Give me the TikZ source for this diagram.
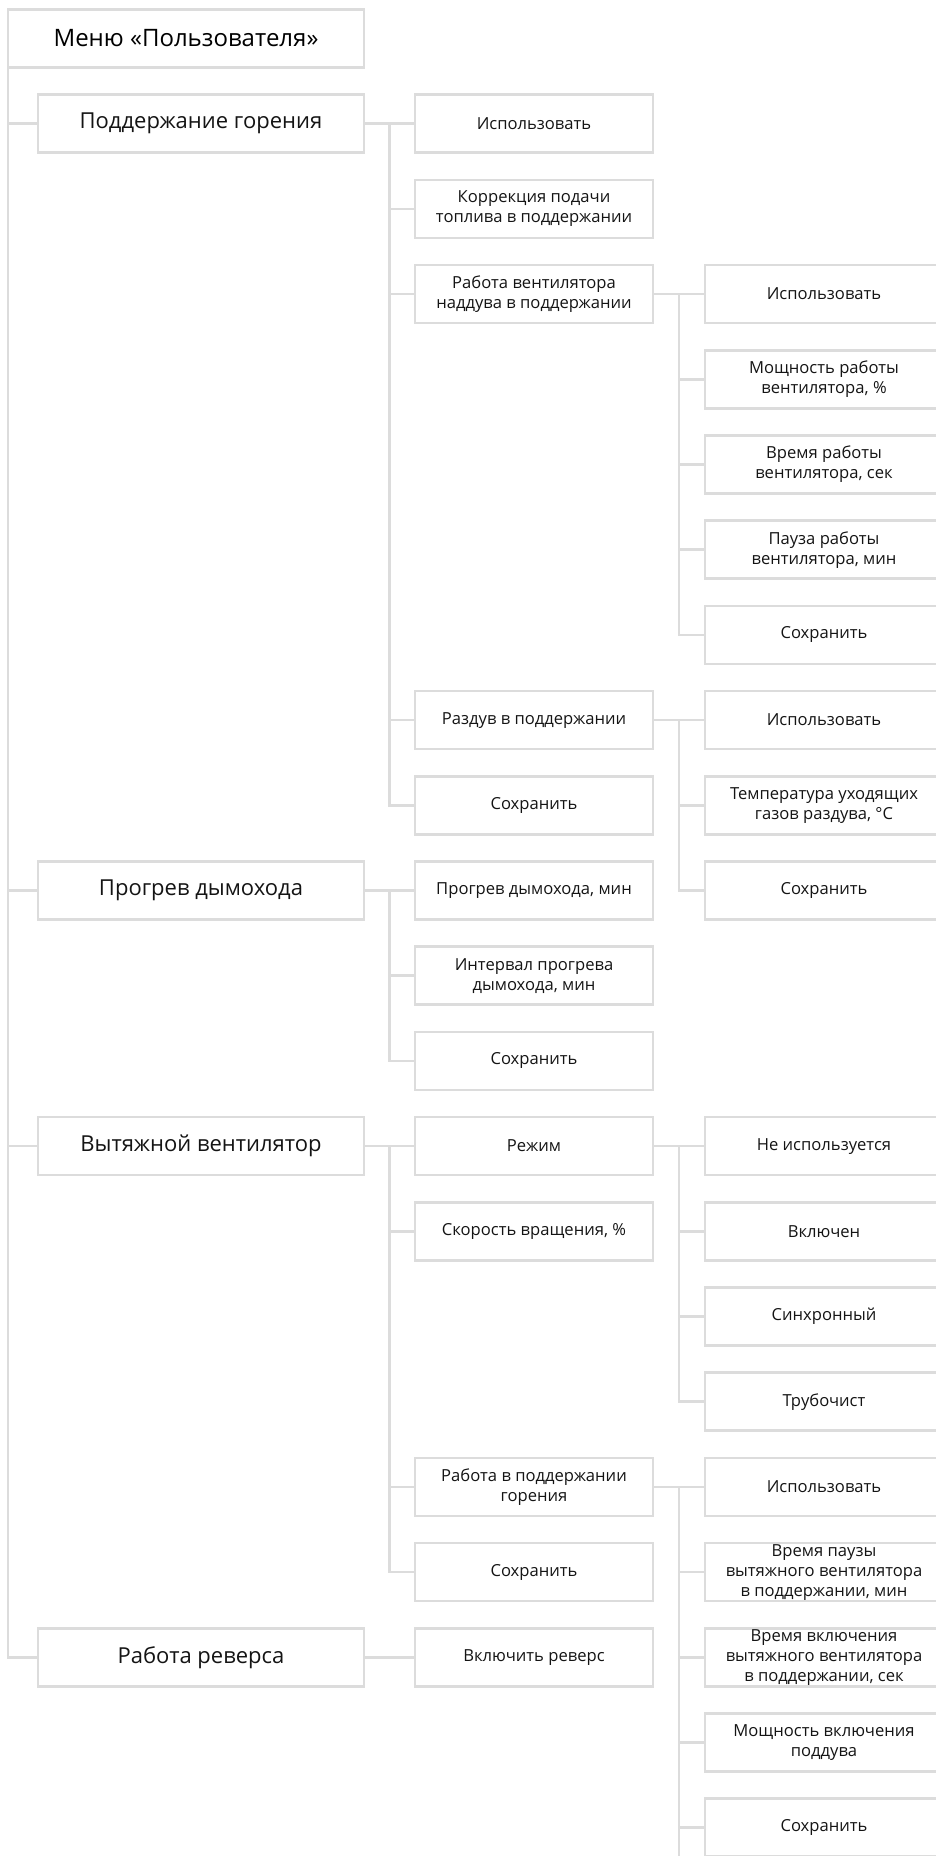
\documentclass[tikz,border=0pt]{standalone}
\usepackage{fontspec}
\setmainfont{Open Sans}
\usetikzlibrary{calc}
\definecolor{linegray}{HTML}{DCDCDC}
\definecolor{textgray}{HTML}{141414}
\tikzset{
  box/.style={draw=linegray, line width=2.5pt, rectangle, align=center, inner sep=0pt, outer sep=0pt, minimum height=58pt, text=textgray},
  rootbox/.style={box, minimum width=356pt, text=black, font=\fontsize{24}{28}\selectfont},
  mainbox/.style={box, minimum width=326pt, font=\fontsize{22}{26}\selectfont},
  subbox/.style={box, minimum width=238pt, font=\fontsize{16.6}{20}\selectfont},
  leafbox/.style={subbox},
  link/.style={draw=linegray, line width=2.5pt},
}
\begin{document}
\begin{tikzpicture}[x=1pt, y=-1pt]
\clip (0,0) rectangle (936,1856);
% root and main branches
\node[rootbox] (root) at (186,38.5) {Меню «Пользователя»};
\node[mainbox] (burn) at (201,123.7) {Поддержание горения};
\node[mainbox] (chim) at (201,890.5) {Прогрев дымохода};
\node[mainbox] (exh) at (201,1146.1) {Вытяжной вентилятор};
\node[mainbox] (rev) at (201,1657.3) {Работа реверса};
% second level
\node[subbox] (burn-use) at (534,123.7) {Использовать};
\node[subbox] (burn-fuel) at (534,208.9) {Коррекция подачи\\топлива в поддержании};
\node[subbox] (burn-fan) at (534,294.1) {Работа вентилятора\\наддува в поддержании};
\node[subbox] (burn-blow) at (534,720.1) {Раздув в поддержании};
\node[subbox] (burn-save) at (534,805.3) {Сохранить};
\node[subbox] (chim-time) at (534,890.5) {Прогрев дымохода, мин};
\node[subbox] (chim-int) at (534,975.7) {Интервал прогрева\\дымохода, мин};
\node[subbox] (chim-save) at (534,1060.9) {Сохранить};
\node[subbox] (exh-mode) at (534,1146.1) {Режим};
\node[subbox] (exh-speed) at (534,1231.3) {Скорость вращения, \%};
\node[subbox] (exh-burn) at (534,1486.9) {Работа в поддержании\\горения};
\node[subbox] (exh-save) at (534,1572.1) {Сохранить};
\node[subbox] (rev-on) at (534,1657.3) {Включить реверс};
% third level
\node[leafbox] (fan-use) at (824,294.1) {Использовать};
\node[leafbox] (fan-power) at (824,379.3) {Мощность работы\\вентилятора, \%};
\node[leafbox] (fan-time) at (824,464.5) {Время работы\\вентилятора, сек};
\node[leafbox] (fan-pause) at (824,549.7) {Пауза работы\\вентилятора, мин};
\node[leafbox] (fan-save) at (824,634.9) {Сохранить};
\node[leafbox] (blow-use) at (824,720.1) {Использовать};
\node[leafbox] (blow-temp) at (824,805.3) {Температура уходящих\\газов раздува, °C};
\node[leafbox] (blow-save) at (824,890.5) {Сохранить};
\node[leafbox] (mode-off) at (824,1146.1) {Не используется};
\node[leafbox] (mode-on) at (824,1231.3) {Включен};
\node[leafbox] (mode-sync) at (824,1316.5) {Синхронный};
\node[leafbox] (mode-sweep) at (824,1401.7) {Трубочист};
\node[leafbox] (eb-use) at (824,1486.9) {Использовать};
\node[leafbox] (eb-pause) at (824,1572.1) {Время паузы\\вытяжного вентилятора\\в поддержании, мин};
\node[leafbox] (eb-on) at (824,1657.3) {Время включения\\вытяжного вентилятора\\в поддержании, сек};
\node[leafbox] (eb-power) at (824,1742.5) {Мощность включения\\поддува};
\node[leafbox] (eb-save) at (824,1827.7) {Сохранить};
% trunk
\draw[link] (root.south west) |- (burn.west);
\draw[link] (root.south west) |- (chim.west);
\draw[link] (root.south west) |- (exh.west);
\draw[link] (root.south west) |- (rev.west);
% branch joints
\coordinate (burn-j) at ($(burn.east)!.5!(burn-use.west)$);
\coordinate (chim-j) at ($(chim.east)!.5!(chim-time.west)$);
\coordinate (exh-j) at ($(exh.east)!.5!(exh-mode.west)$);
\coordinate (fan-j) at ($(burn-fan.east)!.5!(fan-use.west)$);
\coordinate (blow-j) at ($(burn-blow.east)!.5!(blow-use.west)$);
\coordinate (mode-j) at ($(exh-mode.east)!.5!(mode-off.west)$);
\coordinate (eb-j) at ($(exh-burn.east)!.5!(eb-use.west)$);
\coordinate (eb-end) at (eb-j |- 0,1870);
% connectors
\draw[link] (burn.east) -- (burn-use.west);
\foreach \c in {burn-fuel, burn-fan, burn-blow, burn-save}
  \draw[link] (burn-j) |- (\c.west);
\draw[link] (chim.east) -- (chim-time.west);
\foreach \c in {chim-int, chim-save}
  \draw[link] (chim-j) |- (\c.west);
\draw[link] (exh.east) -- (exh-mode.west);
\foreach \c in {exh-speed, exh-burn, exh-save}
  \draw[link] (exh-j) |- (\c.west);
\draw[link] (rev.east) -- (rev-on.west);
\draw[link] (burn-fan.east) -- (fan-use.west);
\foreach \c in {fan-power, fan-time, fan-pause, fan-save}
  \draw[link] (fan-j) |- (\c.west);
\draw[link] (burn-blow.east) -- (blow-use.west);
\foreach \c in {blow-temp, blow-save}
  \draw[link] (blow-j) |- (\c.west);
\draw[link] (exh-mode.east) -- (mode-off.west);
\foreach \c in {mode-on, mode-sync, mode-sweep}
  \draw[link] (mode-j) |- (\c.west);
\draw[link] (exh-burn.east) -- (eb-use.west);
\foreach \c in {eb-pause, eb-on, eb-power, eb-save}
  \draw[link] (eb-j) |- (\c.west);
\draw[link] (eb-j) -- (eb-end);
\end{tikzpicture}
\end{document}
